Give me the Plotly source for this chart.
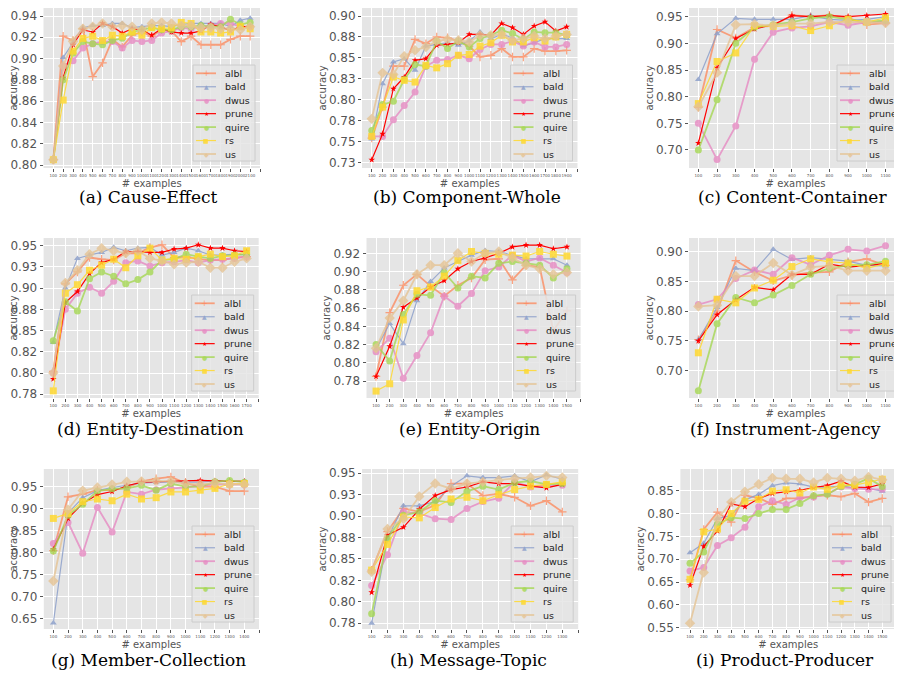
import plotly.graph_objects as go

# ---------------- data ----------------
METHODS = ["albl", "bald", "dwus", "prune", "quire", "rs", "us"]

PANEL_TITLES = ["(a) Cause-Effect", "(b) Component-Whole", "(c) Content-Container",
                "(d) Entity-Destination", "(e) Entity-Origin", "(f) Instrument-Agency",
                "(g) Member-Collection", "(h) Message-Topic", "(i) Product-Producer"]

N_MAX = [2100, 1900, 1100, 1700, 1500, 1100, 1400, 1300, 1500]

cause_effect = {
    "albl": [0.805, 0.921, 0.917, 0.928, 0.883, 0.896, 0.918, 0.911, 0.922, 0.925, 0.921, 0.927, 0.926, 0.916, 0.921, 0.913, 0.913, 0.913, 0.918, 0.921, 0.921],
    "bald": [0.805, 0.901, 0.915, 0.929, 0.931, 0.931, 0.933, 0.933, 0.929, 0.930, 0.931, 0.931, 0.930, 0.932, 0.933, 0.933, 0.933, 0.933, 0.930, 0.936, 0.938],
    "dwus": [0.805, 0.893, 0.898, 0.910, 0.914, 0.916, 0.916, 0.910, 0.917, 0.916, 0.917, 0.924, 0.926, 0.929, 0.928, 0.930, 0.931, 0.933, 0.933, 0.930, 0.930],
    "prune": [0.805, 0.882, 0.913, 0.927, 0.925, 0.933, 0.930, 0.924, 0.928, 0.927, 0.922, 0.928, 0.925, 0.924, 0.924, 0.926, 0.932, 0.930, 0.926, 0.930, 0.930],
    "quire": [0.805, 0.880, 0.905, 0.916, 0.914, 0.913, 0.917, 0.919, 0.925, 0.927, 0.929, 0.927, 0.927, 0.930, 0.930, 0.931, 0.930, 0.930, 0.937, 0.932, 0.934],
    "rs": [0.805, 0.861, 0.907, 0.919, 0.921, 0.917, 0.922, 0.921, 0.925, 0.922, 0.929, 0.928, 0.929, 0.934, 0.933, 0.925, 0.925, 0.924, 0.925, 0.930, 0.928],
    "us": [0.805, 0.893, 0.916, 0.928, 0.930, 0.933, 0.930, 0.931, 0.930, 0.927, 0.933, 0.934, 0.933, 0.931, 0.931, 0.929, 0.929, 0.928, 0.928, 0.927, 0.930],
}

component_whole = {
    "albl": [0.754, 0.791, 0.840, 0.840, 0.872, 0.867, 0.875, 0.874, 0.870, 0.864, 0.851, 0.853, 0.861, 0.851, 0.851, 0.861, 0.858, 0.858, 0.859],
    "bald": [0.753, 0.819, 0.845, 0.849, 0.835, 0.864, 0.866, 0.868, 0.865, 0.870, 0.881, 0.873, 0.878, 0.874, 0.864, 0.868, 0.873, 0.873, 0.873],
    "dwus": [0.756, 0.756, 0.776, 0.793, 0.809, 0.840, 0.847, 0.848, 0.853, 0.849, 0.860, 0.866, 0.866, 0.870, 0.864, 0.869, 0.863, 0.863, 0.866],
    "prune": [0.728, 0.759, 0.813, 0.827, 0.847, 0.849, 0.865, 0.866, 0.868, 0.878, 0.878, 0.877, 0.891, 0.886, 0.878, 0.888, 0.893, 0.882, 0.887],
    "quire": [0.763, 0.794, 0.798, 0.824, 0.842, 0.840, 0.870, 0.861, 0.870, 0.863, 0.873, 0.877, 0.883, 0.879, 0.872, 0.881, 0.880, 0.880, 0.877],
    "rs": [0.756, 0.791, 0.827, 0.823, 0.821, 0.841, 0.838, 0.843, 0.853, 0.854, 0.864, 0.868, 0.877, 0.869, 0.869, 0.874, 0.870, 0.875, 0.878],
    "us": [0.777, 0.832, 0.830, 0.852, 0.859, 0.863, 0.870, 0.872, 0.871, 0.869, 0.877, 0.877, 0.878, 0.871, 0.873, 0.876, 0.873, 0.876, 0.878],
}

content_container = {
    "albl": [0.780, 0.926, 0.910, 0.930, 0.933, 0.953, 0.950, 0.953, 0.948, 0.935, 0.938],
    "bald": [0.832, 0.918, 0.947, 0.945, 0.945, 0.945, 0.952, 0.945, 0.943, 0.945, 0.950],
    "dwus": [0.750, 0.682, 0.745, 0.870, 0.921, 0.929, 0.932, 0.940, 0.934, 0.940, 0.940],
    "prune": [0.713, 0.854, 0.909, 0.927, 0.935, 0.952, 0.950, 0.952, 0.950, 0.952, 0.955],
    "quire": [0.700, 0.794, 0.900, 0.930, 0.935, 0.940, 0.947, 0.950, 0.945, 0.940, 0.943],
    "rs": [0.787, 0.866, 0.882, 0.933, 0.932, 0.933, 0.924, 0.933, 0.945, 0.940, 0.948],
    "us": [0.781, 0.845, 0.935, 0.936, 0.933, 0.937, 0.937, 0.940, 0.940, 0.940, 0.938],
}

entity_destination = {
    "albl": [0.802, 0.905, 0.919, 0.936, 0.934, 0.933, 0.941, 0.941, 0.948, 0.951, 0.936, 0.937, 0.934, 0.933, 0.933, 0.936, 0.937],
    "bald": [0.836, 0.900, 0.935, 0.939, 0.942, 0.948, 0.944, 0.947, 0.948, 0.939, 0.942, 0.947, 0.944, 0.939, 0.939, 0.940, 0.939],
    "dwus": [0.800, 0.875, 0.894, 0.901, 0.894, 0.908, 0.930, 0.932, 0.926, 0.930, 0.931, 0.933, 0.930, 0.933, 0.934, 0.935, 0.937],
    "prune": [0.793, 0.883, 0.896, 0.917, 0.930, 0.934, 0.943, 0.943, 0.942, 0.942, 0.946, 0.947, 0.951, 0.947, 0.947, 0.944, 0.943],
    "quire": [0.838, 0.884, 0.873, 0.911, 0.919, 0.914, 0.905, 0.910, 0.919, 0.933, 0.934, 0.940, 0.937, 0.935, 0.938, 0.939, 0.940],
    "rs": [0.779, 0.894, 0.904, 0.921, 0.927, 0.934, 0.924, 0.938, 0.947, 0.933, 0.935, 0.934, 0.937, 0.940, 0.937, 0.938, 0.944],
    "us": [0.800, 0.906, 0.921, 0.940, 0.947, 0.944, 0.941, 0.944, 0.935, 0.932, 0.928, 0.930, 0.931, 0.924, 0.924, 0.931, 0.935],
}

entity_origin = {
    "albl": [0.785, 0.855, 0.885, 0.897, 0.884, 0.873, 0.885, 0.893, 0.913, 0.914, 0.891, 0.907, 0.905, 0.835, 0.857],
    "bald": [0.815, 0.843, 0.821, 0.868, 0.889, 0.904, 0.911, 0.918, 0.923, 0.922, 0.918, 0.914, 0.914, 0.914, 0.907],
    "dwus": [0.812, 0.827, 0.783, 0.808, 0.833, 0.873, 0.862, 0.876, 0.901, 0.905, 0.918, 0.911, 0.915, 0.907, 0.899],
    "prune": [0.785, 0.818, 0.861, 0.871, 0.883, 0.890, 0.903, 0.911, 0.915, 0.920, 0.927, 0.929, 0.929, 0.925, 0.927],
    "quire": [0.820, 0.802, 0.853, 0.875, 0.874, 0.899, 0.882, 0.895, 0.893, 0.909, 0.911, 0.909, 0.907, 0.893, 0.903],
    "rs": [0.769, 0.777, 0.847, 0.879, 0.883, 0.895, 0.912, 0.922, 0.920, 0.919, 0.918, 0.917, 0.922, 0.919, 0.917],
    "us": [0.816, 0.849, 0.868, 0.897, 0.907, 0.907, 0.920, 0.911, 0.920, 0.922, 0.915, 0.907, 0.903, 0.897, 0.899],
}

instrument_agency = {
    "albl": [0.752, 0.800, 0.885, 0.866, 0.851, 0.860, 0.865, 0.866, 0.883, 0.888, 0.877],
    "bald": [0.752, 0.806, 0.872, 0.868, 0.904, 0.887, 0.890, 0.887, 0.884, 0.877, 0.876],
    "dwus": [0.811, 0.820, 0.855, 0.869, 0.862, 0.890, 0.878, 0.894, 0.904, 0.901, 0.910],
    "prune": [0.750, 0.794, 0.819, 0.840, 0.836, 0.862, 0.862, 0.879, 0.874, 0.877, 0.880],
    "quire": [0.666, 0.779, 0.823, 0.814, 0.827, 0.843, 0.862, 0.872, 0.877, 0.878, 0.884],
    "rs": [0.730, 0.820, 0.814, 0.839, 0.852, 0.875, 0.888, 0.883, 0.881, 0.872, 0.880],
    "us": [0.808, 0.810, 0.859, 0.859, 0.881, 0.861, 0.874, 0.876, 0.868, 0.868, 0.868],
}

member_collection = {
    "albl": [0.805, 0.927, 0.933, 0.942, 0.942, 0.948, 0.962, 0.968, 0.972, 0.958, 0.950, 0.950, 0.940, 0.940],
    "bald": [0.641, 0.890, 0.925, 0.941, 0.948, 0.953, 0.958, 0.960, 0.961, 0.961, 0.960, 0.963, 0.962, 0.962],
    "dwus": [0.821, 0.869, 0.799, 0.903, 0.847, 0.938, 0.933, 0.943, 0.946, 0.948, 0.952, 0.955, 0.955, 0.955],
    "prune": [0.808, 0.878, 0.912, 0.932, 0.939, 0.952, 0.960, 0.961, 0.961, 0.962, 0.964, 0.963, 0.962, 0.962],
    "quire": [0.804, 0.885, 0.910, 0.940, 0.945, 0.946, 0.953, 0.942, 0.957, 0.950, 0.950, 0.961, 0.964, 0.960],
    "rs": [0.878, 0.889, 0.916, 0.922, 0.918, 0.933, 0.922, 0.925, 0.938, 0.938, 0.942, 0.946, 0.956, 0.957],
    "us": [0.736, 0.898, 0.941, 0.948, 0.955, 0.961, 0.962, 0.963, 0.962, 0.957, 0.955, 0.958, 0.955, 0.955],
}

message_topic = {
    "albl": [0.837, 0.882, 0.909, 0.905, 0.913, 0.938, 0.938, 0.924, 0.926, 0.922, 0.912, 0.918, 0.905],
    "bald": [0.775, 0.874, 0.912, 0.912, 0.917, 0.935, 0.947, 0.945, 0.945, 0.947, 0.940, 0.948, 0.943],
    "dwus": [0.819, 0.855, 0.905, 0.903, 0.897, 0.896, 0.909, 0.917, 0.921, 0.940, 0.934, 0.936, 0.936],
    "prune": [0.811, 0.878, 0.887, 0.908, 0.924, 0.931, 0.934, 0.940, 0.938, 0.938, 0.935, 0.933, 0.937],
    "quire": [0.786, 0.874, 0.901, 0.905, 0.918, 0.916, 0.929, 0.935, 0.931, 0.939, 0.941, 0.937, 0.938],
    "rs": [0.837, 0.867, 0.899, 0.898, 0.910, 0.920, 0.922, 0.918, 0.925, 0.931, 0.935, 0.937, 0.940],
    "us": [0.835, 0.885, 0.897, 0.923, 0.938, 0.932, 0.938, 0.940, 0.942, 0.944, 0.945, 0.947, 0.945],
}

product_producer = {
    "albl": [0.655, 0.765, 0.803, 0.781, 0.840, 0.834, 0.820, 0.833, 0.833, 0.838, 0.840, 0.837, 0.844, 0.825, 0.833],
    "bald": [0.714, 0.735, 0.789, 0.796, 0.830, 0.842, 0.861, 0.867, 0.865, 0.858, 0.858, 0.860, 0.856, 0.855, 0.849],
    "dwus": [0.674, 0.682, 0.730, 0.747, 0.770, 0.815, 0.828, 0.820, 0.835, 0.836, 0.843, 0.858, 0.855, 0.853, 0.853],
    "prune": [0.643, 0.728, 0.762, 0.821, 0.815, 0.833, 0.844, 0.848, 0.851, 0.857, 0.861, 0.871, 0.858, 0.857, 0.865],
    "quire": [0.691, 0.716, 0.777, 0.791, 0.789, 0.800, 0.809, 0.809, 0.822, 0.839, 0.842, 0.859, 0.864, 0.877, 0.859],
    "rs": [0.656, 0.760, 0.766, 0.800, 0.827, 0.831, 0.849, 0.852, 0.845, 0.858, 0.853, 0.862, 0.862, 0.868, 0.875],
    "us": [0.560, 0.671, 0.788, 0.825, 0.848, 0.864, 0.878, 0.876, 0.876, 0.868, 0.878, 0.876, 0.872, 0.880, 0.874],
}

PANELS = [cause_effect, component_whole, content_container, entity_destination,
          entity_origin, instrument_agency, member_collection, message_topic, product_producer]

Y_TICKVALS = [
    [0.80, 0.82, 0.84, 0.86, 0.88, 0.90, 0.92, 0.94],
    [0.725, 0.75, 0.775, 0.80, 0.825, 0.85, 0.875, 0.90],
    [0.70, 0.75, 0.80, 0.85, 0.90, 0.95],
    [0.775, 0.80, 0.825, 0.85, 0.875, 0.90, 0.925, 0.95],
    [0.78, 0.80, 0.82, 0.84, 0.86, 0.88, 0.90, 0.92],
    [0.70, 0.75, 0.80, 0.85, 0.90],
    [0.65, 0.70, 0.75, 0.80, 0.85, 0.90, 0.95],
    [0.775, 0.80, 0.825, 0.85, 0.875, 0.90, 0.925, 0.95],
    [0.55, 0.60, 0.65, 0.70, 0.75, 0.80, 0.85],
]
Y_TICKTEXT = [
    ["0.80", "0.82", "0.84", "0.86", "0.88", "0.90", "0.92", "0.94"],
    ["0.73", "0.75", "0.78", "0.80", "0.83", "0.85", "0.88", "0.90"],
    ["0.70", "0.75", "0.80", "0.85", "0.90", "0.95"],
    ["0.78", "0.80", "0.82", "0.85", "0.88", "0.90", "0.93", "0.95"],
    ["0.78", "0.80", "0.82", "0.84", "0.86", "0.88", "0.90", "0.92"],
    ["0.70", "0.75", "0.80", "0.85", "0.90"],
    ["0.65", "0.70", "0.75", "0.80", "0.85", "0.90", "0.95"],
    ["0.78", "0.80", "0.82", "0.85", "0.88", "0.90", "0.93", "0.95"],
    ["0.55", "0.60", "0.65", "0.70", "0.75", "0.80", "0.85"],
]

# ---------------- styles / layout ----------------
COLORS = ["#FC8D62", "#8DA0CB", "#E78AC3", "#FF0000", "#A6D854", "#FFD92F", "#E5C494"]
SYMBOLS = ["cross-thin", "triangle-up", "circle", "star", "circle", "square", "diamond"]
MSIZES = [6, 6, 7, 5, 7, 7, 8]
LWIDTH = [1.8, 1.2, 1.8, 1.2, 1.8, 1.2, 1.8]
OPAC = [0.8, 0.85, 0.8, 1.0, 0.8, 0.85, 0.8]
GLYPHS = ["+", "▲", "●", "★", "●", "■", "◆"]

# the page body has an 8px margin, so the figure starts at (8, 8) of the window
OFF = 8
W, H = 902 - OFF, 674 - OFF
PLOT_L = [43.5, 362.0, 689.0, 43.6, 366.5, 689.0, 43.8, 362.1, 680.4]
PLOT_R = [260.0, 577.5, 902.0, 258.7, 580.6, 902.0, 259.0, 578.2, 896.0]
ROW_TB = [(8, 168), (238, 398), (469, 629)]
X_RANGE = [[0, 2200], [10, 2000], [50, 1188], [20, 1800], [30, 1600], [50, 1188],
           [35, 1500], [40, 1400], [30, 1600]]
Y_RANGE = [[0.79718, 0.94752], [0.71818, 0.90957], [0.6662, 0.9663], [0.7706, 0.959],
           [0.7614, 0.9368], [0.654, 0.923], [0.6273, 0.990], [0.7683, 0.955],
           [0.5472, 0.8975]]
CAPTION_Y = [197, 429, 660]
CAPTION_X = [148, 467, 792, 150, 469, 785, 148, 468, 785]


def px_x(px):
    return (px - OFF) / W


def px_y(py):
    return 1 - (py - OFF) / H


fig = go.Figure()
annotations = []
shapes = []
TXT = "#555555"
FONT = "DejaVu Sans"

for k, panel in enumerate(PANELS):
    idx = "" if k == 0 else str(k + 1)
    xs = list(range(100, N_MAX[k] + 1, 100))
    for m, name in enumerate(METHODS):
        fig.add_trace(go.Scatter(
            x=xs, y=panel[name], name=name, mode="lines+markers",
            xaxis="x" + idx, yaxis="y" + idx, showlegend=False,
            opacity=OPAC[m],
            line=dict(color=COLORS[m], width=LWIDTH[m]),
            marker=dict(symbol=SYMBOLS[m], size=MSIZES[m], color=COLORS[m],
                        line=dict(width=1.2 if SYMBOLS[m] == "cross-thin" else 0,
                                  color=COLORS[m])),
        ))
    r = k // 3
    top, bot = ROW_TB[r]
    xtv = xs + [N_MAX[k] + 100]
    xtt = [str(v) for v in xs] + [""]
    fig.layout["xaxis" + idx] = dict(
        domain=[px_x(PLOT_L[k]), min(1.0, px_x(PLOT_R[k]))], anchor="y" + idx,
        range=X_RANGE[k], tickvals=xtv, ticktext=xtt, tickangle=0,
        tickfont=dict(size=4, color=TXT, family=FONT), ticks="outside", ticklen=3,
        tickcolor=TXT, tickwidth=0.6, showgrid=True, gridcolor="white", gridwidth=1,
        zeroline=False, showline=False, automargin=False,
        title=dict(text="# examples", font=dict(size=10, color=TXT, family=FONT), standoff=1),
    )
    fig.layout["yaxis" + idx] = dict(
        domain=[px_y(bot), min(1.0, px_y(top))], anchor="x" + idx,
        range=Y_RANGE[k], tickvals=Y_TICKVALS[k], ticktext=Y_TICKTEXT[k],
        tickfont=dict(size=12, color=TXT, family=FONT), ticks="outside", ticklen=3,
        tickcolor=TXT, tickwidth=0.8, showgrid=True, gridcolor="white", gridwidth=1,
        zeroline=False, showline=False, automargin=False, ticklabeloverflow="allow",
        title=dict(text="accuracy", font=dict(size=10, color=TXT, family=FONT), standoff=0),
    )

    # caption
    annotations.append(dict(
        text=PANEL_TITLES[k], xref="paper", yref="paper",
        x=px_x(CAPTION_X[k]), y=px_y(CAPTION_Y[r]),
        xanchor="center", yanchor="middle", showarrow=False,
        font=dict(size=17, color="black", family="DejaVu Serif"),
    ))

    # legend box (built from METHODS) anchored near lower-right corner of plot area
    pw = min(PLOT_R[k], 902.0) - PLOT_L[k]
    ph = bot - top
    box_l_px = 67 if k not in (2, 5) else 65
    box_r_px = 5 if k not in (2, 5) else 3
    xd = "x" + idx + " domain"
    yd = "y" + idx + " domain"
    bx0 = 1 - box_l_px / pw
    bx1 = 1 - box_r_px / pw
    by0 = 7 / ph
    by1 = 103 / ph
    shapes.append(dict(type="rect", xref=xd, yref=yd, x0=bx0, x1=bx1, y0=by0, y1=by1,
                       fillcolor="rgba(229,229,229,0.85)", line=dict(color="#CCCCCC", width=1),
                       layer="above"))
    for m, name in enumerate(METHODS):
        row_px = 103 - 8.3 - m * 13.45
        yy = row_px / ph
        lx0 = bx0 + 3 / pw
        lx1 = bx0 + 23 / pw
        shapes.append(dict(type="line", xref=xd, yref=yd, x0=lx0, x1=lx1, y0=yy, y1=yy,
                           line=dict(color=COLORS[m], width=LWIDTH[m]), opacity=OPAC[m],
                           layer="above"))
        annotations.append(dict(
            text=GLYPHS[m], xref=xd, yref=yd, x=bx0 + 13 / pw, y=yy,
            xanchor="center", yanchor="middle", showarrow=False,
            font=dict(size=6 if GLYPHS[m] != "+" else 8, color=COLORS[m], family=FONT),
            opacity=OPAC[m],
        ))
        annotations.append(dict(
            text=name, xref=xd, yref=yd, x=bx0 + 30 / pw, y=yy,
            xanchor="left", yanchor="middle", showarrow=False,
            font=dict(size=9.5, color="#222222", family=FONT),
        ))

fig.update_layout(
    width=W, height=H, margin=dict(l=0, r=0, t=0, b=0),
    paper_bgcolor="white", plot_bgcolor="#E5E5E5",
    annotations=annotations, shapes=shapes, showlegend=False,
    font=dict(family=FONT),
)

fig.write_html("out.html")
